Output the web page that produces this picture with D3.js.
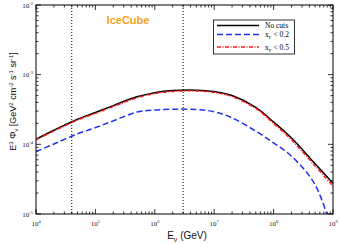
<!DOCTYPE html>
<html>
<head>
<meta charset="utf-8">
<script src="https://cdn.jsdelivr.net/npm/d3@7"></script>
<style>
  body { margin: 0; background: #fff; }
  svg { display: block; }
</style>
</head>
<body>
<div id="chart"></div>
<script>
// Energies (GeV) and log10 of E^3 Phi for each case
const energies = [1e4, 2e4, 5e4, 1e5, 2e5, 5e5, 1e6, 2e6, 5e6, 1e7, 2e7, 5e7, 1e8, 2e8, 5e8, 1e9];
const noCuts = [-3.927, -3.798, -3.639, -3.543, -3.444, -3.318, -3.258, -3.228, -3.222, -3.242, -3.30, -3.47, -3.68, -3.91, -4.28, -4.56];
const xf05 = [-3.935, -3.81, -3.652, -3.556, -3.458, -3.332, -3.271, -3.240, -3.234, -3.255, -3.315, -3.485, -3.70, -3.935, -4.31, -4.60];
const xf02 = [-4.105, -3.995, -3.85, -3.76, -3.663, -3.537, -3.508, -3.496, -3.500, -3.532, -3.62, -3.81, -3.98, -4.17, -4.58, -5.3];

const cutLines = [4e4, 3e6];
const xDecades = [4, 5, 6, 7, 8, 9];
const yDecades = [-5, -4, -3, -2];

const series = [
  { label: "No cuts", sub: null, vals: noCuts, color: "#000000", dash: null },
  { label: "x", sub: "F", rest: " < 0.2", vals: xf02, color: "#1f2ff0", dash: "6,3" },
  { label: "x", sub: "F", rest: " < 0.5", vals: xf05, color: "#ff1a1a", dash: "4,1.5,1,1.5" }
];

const width = 340, height = 244;
const margin = { left: 36, right: 7, top: 5, bottom: 30 };

const svg = d3.select("#chart").append("svg")
    .attr("width", width)
    .attr("height", height);

const x = d3.scaleLog().domain([1e4, 1e9]).range([margin.left, width - margin.right]);
const y = d3.scaleLog().domain([1e-5, 1e-2]).range([height - margin.bottom, margin.top]);

const x0 = margin.left, x1 = width - margin.right;
const y0 = height - margin.bottom, y1 = margin.top;

svg.append("clipPath").attr("id", "clip")
  .append("rect")
    .attr("x", x0).attr("y", y1)
    .attr("width", x1 - x0).attr("height", y0 - y1);

// minor and major tick values
const xMinor = [], yMinor = [];
xDecades.slice(0, -1).forEach(d => { for (let k = 2; k <= 9; k++) xMinor.push(k * Math.pow(10, d)); });
yDecades.slice(0, -1).forEach(d => { for (let k = 2; k <= 9; k++) yMinor.push(k * Math.pow(10, d)); });

const tickG = svg.append("g").attr("stroke", "#000").attr("stroke-width", 0.8);

// x ticks on bottom and top, pointing inward
xDecades.forEach(d => {
  const px = x(Math.pow(10, d));
  tickG.append("line").attr("x1", px).attr("x2", px).attr("y1", y0).attr("y2", y0 - 5);
  tickG.append("line").attr("x1", px).attr("x2", px).attr("y1", y1).attr("y2", y1 + 5);
});
xMinor.forEach(v => {
  const px = x(v);
  tickG.append("line").attr("x1", px).attr("x2", px).attr("y1", y0).attr("y2", y0 - 2.5);
  tickG.append("line").attr("x1", px).attr("x2", px).attr("y1", y1).attr("y2", y1 + 2.5);
});
// y ticks on left and right
yDecades.forEach(d => {
  const py = y(Math.pow(10, d));
  tickG.append("line").attr("y1", py).attr("y2", py).attr("x1", x0).attr("x2", x0 + 5);
  tickG.append("line").attr("y1", py).attr("y2", py).attr("x1", x1).attr("x2", x1 - 5);
});
yMinor.forEach(v => {
  const py = y(v);
  tickG.append("line").attr("y1", py).attr("y2", py).attr("x1", x0).attr("x2", x0 + 2.5);
  tickG.append("line").attr("y1", py).attr("y2", py).attr("x1", x1).attr("x2", x1 - 2.5);
});

// tick labels, 10^n in serif
const serif = "'Liberation Serif', 'DejaVu Serif', serif";
xDecades.forEach(d => {
  const t = svg.append("text")
      .attr("x", x(Math.pow(10, d)))
      .attr("y", y0 + 12)
      .attr("text-anchor", "middle")
      .attr("font-family", serif)
      .attr("font-size", 7)
      .attr("fill", "#222");
  t.append("tspan").text("10");
  t.append("tspan").attr("font-size", 4.5).attr("dy", -3).text(d);
});
yDecades.forEach(d => {
  const t = svg.append("text")
      .attr("x", x0 - 3)
      .attr("y", y(Math.pow(10, d)) + 2.5)
      .attr("text-anchor", "end")
      .attr("font-family", serif)
      .attr("font-size", 7)
      .attr("fill", "#222");
  t.append("tspan").text("10");
  t.append("tspan").attr("font-size", 4.5).attr("dy", -3).text(d);
});

// dotted cut lines
cutLines.forEach(v => {
  svg.append("line")
      .attr("x1", x(v)).attr("x2", x(v))
      .attr("y1", y1).attr("y2", y0)
      .attr("stroke", "#000")
      .attr("stroke-width", 1)
      .attr("stroke-dasharray", "1,2");
});

// curves, smoothed in log-log space
const line = d3.line()
    .x((d, i) => x(energies[i]))
    .y(d => y(Math.pow(10, d)))
    .curve(d3.curveCatmullRom.alpha(0.5));

const plot = svg.append("g").attr("clip-path", "url(#clip)");
[series[0], series[1], series[2]].forEach(s => {
  plot.append("path")
      .attr("d", line(s.vals))
      .attr("fill", "none")
      .attr("stroke", s.color)
      .attr("stroke-width", 1.5)
      .attr("stroke-dasharray", s.dash);
});

// frame
svg.append("rect")
    .attr("x", x0).attr("y", y1)
    .attr("width", x1 - x0).attr("height", y0 - y1)
    .attr("fill", "none")
    .attr("stroke", "#000")
    .attr("stroke-width", 1);

// IceCube label
svg.append("text")
    .attr("x", 128).attr("y", 24)
    .attr("text-anchor", "middle")
    .attr("font-family", "'Liberation Sans', Arial, sans-serif")
    .attr("font-weight", "bold")
    .attr("font-size", 11)
    .attr("fill", "#f7a21b")
    .text("IceCube");

// legend
const lg = svg.append("g");
lg.append("rect")
    .attr("x", 213.5).attr("y", 20)
    .attr("width", 81).attr("height", 34)
    .attr("fill", "#fff")
    .attr("stroke", "#000")
    .attr("stroke-width", 0.8);
const rowsY = [25.5, 34.5, 47];
series.forEach((s, i) => {
  lg.append("line")
      .attr("x1", 217).attr("x2", 259)
      .attr("y1", rowsY[i]).attr("y2", rowsY[i])
      .attr("stroke", s.color)
      .attr("stroke-width", 1.5)
      .attr("stroke-dasharray", s.dash);
  const t = lg.append("text")
      .attr("x", 265).attr("y", rowsY[i] + 2.5)
      .attr("font-family", serif)
      .attr("font-size", 7.5)
      .attr("fill", "#000");
  t.append("tspan").text(s.label);
  if (s.sub) {
    t.append("tspan").attr("font-size", 5).attr("dy", 2).text(s.sub);
    t.append("tspan").attr("dy", -2).text(s.rest);
  }
});

// axis titles
const sans = "'Liberation Sans', Arial, sans-serif";
const xt = svg.append("text")
    .attr("x", 187).attr("y", 239)
    .attr("text-anchor", "middle")
    .attr("font-family", sans)
    .attr("font-size", 10)
    .attr("fill", "#111");
xt.append("tspan").text("E");
xt.append("tspan").attr("font-size", 7).attr("dy", 2.5).text("ν");
xt.append("tspan").attr("dy", -2.5).text(" (GeV)");

const yt = svg.append("text")
    .attr("transform", `translate(16,${(y0 + y1) / 2 - 8}) rotate(-90)`)
    .attr("text-anchor", "middle")
    .attr("font-family", sans)
    .attr("font-size", 9)
    .attr("fill", "#111");
yt.append("tspan").text("E");
yt.append("tspan").attr("font-size", 6).attr("dy", -3.5).text("3");
yt.append("tspan").attr("dy", 3.5).text(" Φ");
yt.append("tspan").attr("font-size", 6).attr("dy", 2).text("ν");
yt.append("tspan").attr("dy", -2).text(" [GeV");
yt.append("tspan").attr("font-size", 6).attr("dy", -3.5).text("2");
yt.append("tspan").attr("dy", 3.5).text(" cm");
yt.append("tspan").attr("font-size", 6).attr("dy", -3.5).text("-2");
yt.append("tspan").attr("dy", 3.5).text(" s");
yt.append("tspan").attr("font-size", 6).attr("dy", -3.5).text("-1");
yt.append("tspan").attr("dy", 3.5).text(" sr");
yt.append("tspan").attr("font-size", 6).attr("dy", -3.5).text("-1");
yt.append("tspan").attr("dy", 3.5).text("]");
</script>
</body>
</html>
